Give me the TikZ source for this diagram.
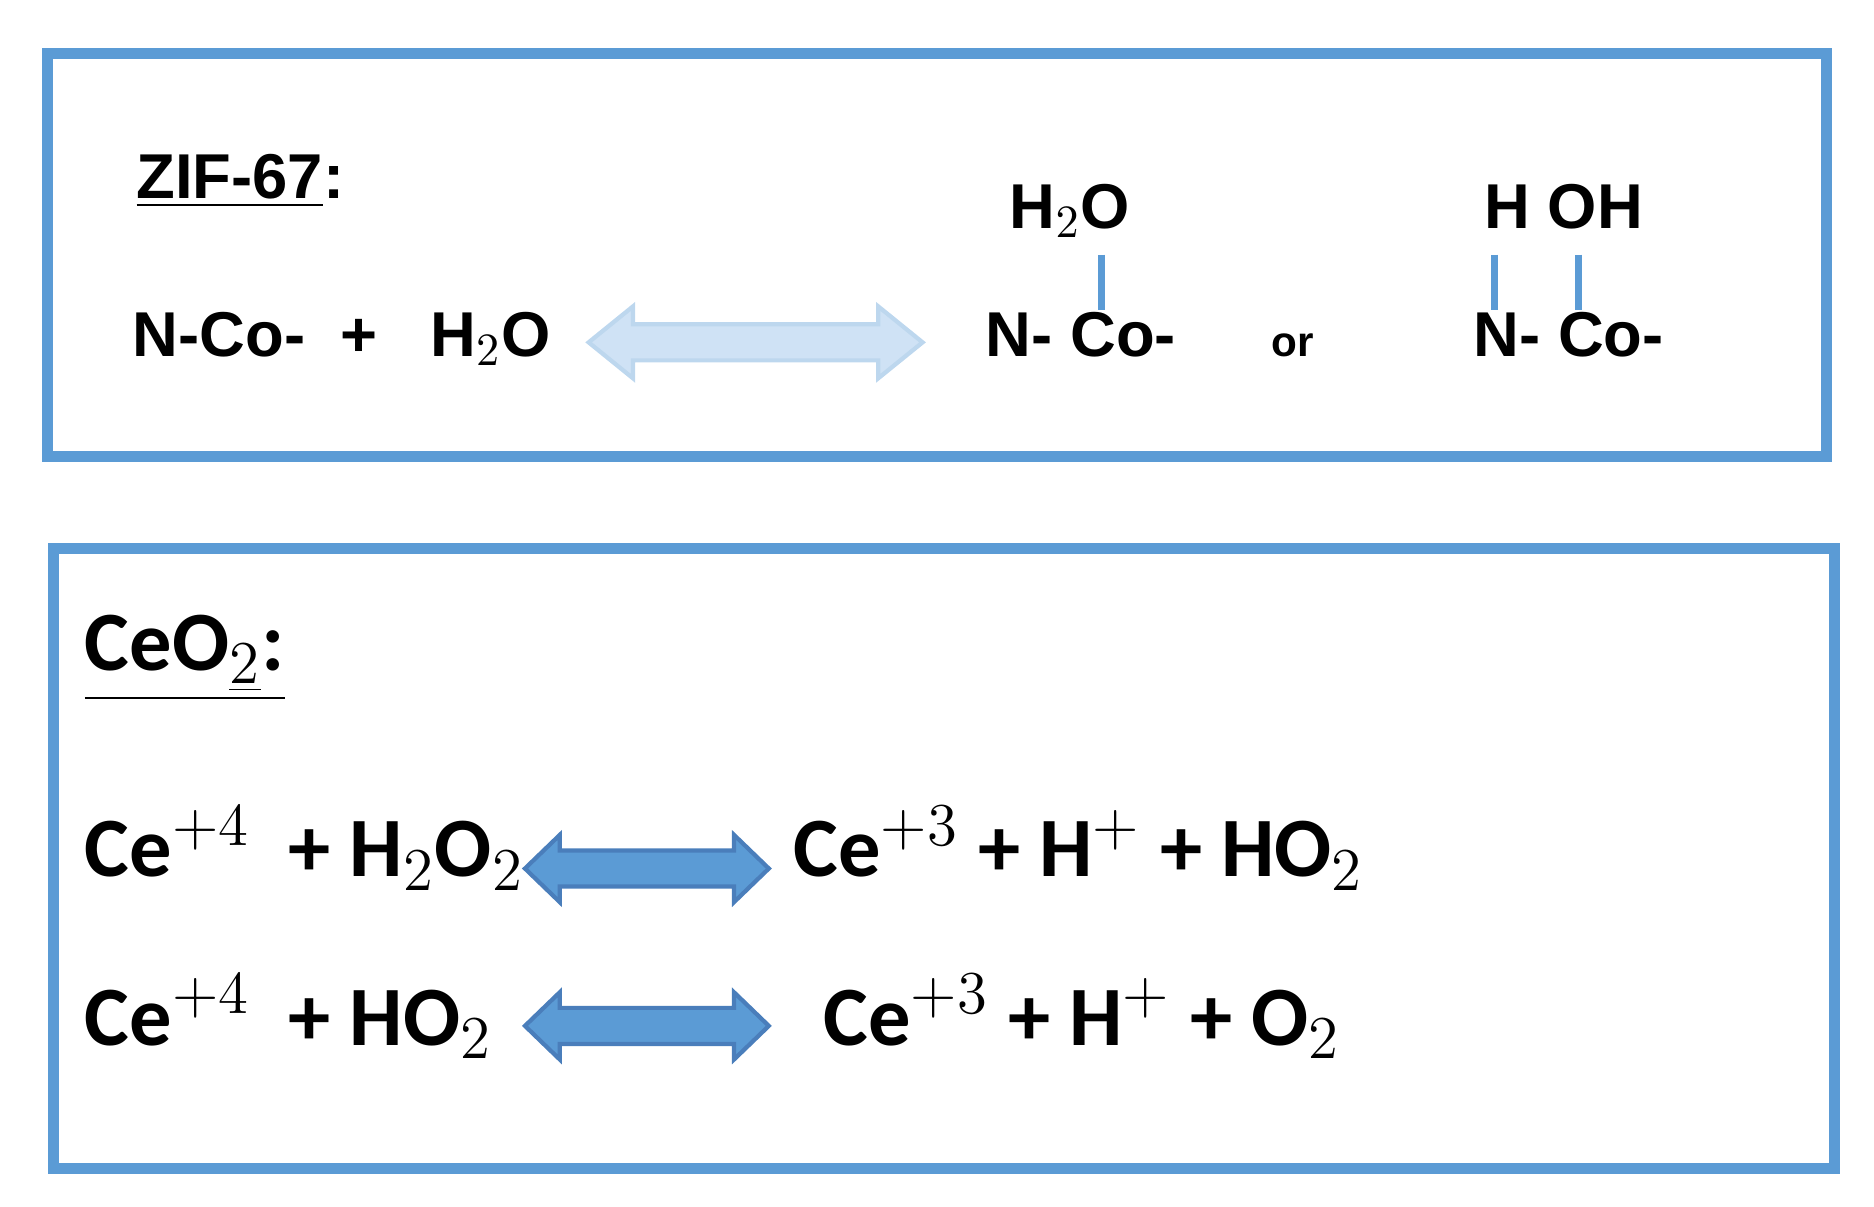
\documentclass[tikz,border=0pt]{standalone}
\usepackage{fontspec}
\setmainfont{Liberation Sans}
\newfontfamily\carlitofont{Carlito}
\definecolor{frame}{HTML}{5B9BD5}
\definecolor{lightarr}{HTML}{CFE2F5}
\definecolor{lightedge}{HTML}{BDD7EE}
\definecolor{darkedge}{HTML}{4A7EBB}
\begin{document}
\begin{tikzpicture}[x=0.01cm,y=-0.01cm,
  boxf/.style={draw=frame,line width=0.09cm},
  ttxt/.style={anchor=base west,inner sep=0pt,font=\fontsize{15}{18}\selectfont\bfseries},
  btxt/.style={anchor=base west,inner sep=0pt,font=\carlitofont\fontsize{20}{24}\selectfont\bfseries},
  bond/.style={draw=frame,line width=0.06cm}]
\useasboundingbox (0,0) rectangle (1560,1004);
\node[boxf,minimum width=14.8cm,minimum height=3.35cm,anchor=north west] (b1) at (35,40) {};
\node[boxf,minimum width=14.82cm,minimum height=5.16cm,anchor=north west] (b2) at (40,452) {};
% top
\node[ttxt] (zif) at (113,165) {\underline{ZIF-67}:};
\node[ttxt] (r1) at (110,297) {N-Co-\ \ +\ \ \ H$_2$O};
\path[fill=lightarr,draw=lightedge,line width=1pt]
 (490,285) -- (527,255) -- (527,270) -- (731,270) -- (731,255) -- (768,285) -- (731,315) -- (731,300) -- (527,300) -- (527,315) -- cycle;
\node[ttxt] (p1) at (820,297) {N- Co-};
\node[ttxt] (w1) at (840,190) {H$_2$O};
\draw[bond] (917,212) -- (917,258);
\node[anchor=base west,inner sep=0pt,font=\fontsize{10}{12}\selectfont\bfseries] (or) at (1058,297) {or};
\node[ttxt] (p2) at (1226,297) {N- Co-};
\node[ttxt] (w2) at (1235,190) {H OH};
\draw[bond] (1244,212) -- (1244,258);
\draw[bond] (1314,212) -- (1314,258);
% bottom
\node[btxt] (ce) at (70,558) {\underline{CeO$_{\underline{2}}$:}};
\node[btxt] (e1) at (70,730) {Ce$^{+4}$\ \ + H$_2$O$_2$};
\node[btxt] (f1) at (660,730) {Ce$^{+3}$ + H$^{+}$ + HO$_2$};
\node[btxt] (e2) at (70,870) {Ce$^{+4}$\ \ + HO$_2$};
\node[btxt] (f2) at (685,870) {Ce$^{+3}$ + H$^{+}$ + O$_2$};
\foreach \yy in {723,854}{
\path[fill=frame,draw=darkedge,line width=1pt]
 (437,\yy) -- (466,\yy-28) -- (466,\yy-15) -- (611,\yy-15) -- (611,\yy-28) -- (640,\yy) -- (611,\yy+28) -- (611,\yy+15) -- (466,\yy+15) -- (466,\yy+28) -- cycle;}
\end{tikzpicture}
\end{document}
